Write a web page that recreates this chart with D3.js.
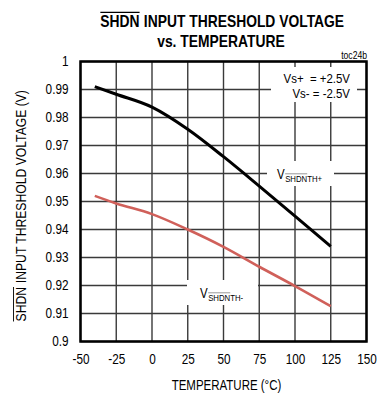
<!DOCTYPE html>
<html>
<head>
<meta charset="utf-8">
<script src="https://cdn.jsdelivr.net/npm/d3@7"></script>
<style>
  html, body { margin: 0; padding: 0; background: #fff; }
  svg { display: block; }
  text { font-family: 'Liberation Sans', Arial, sans-serif; fill: #000; white-space: pre; }
</style>
</head>
<body>
<svg id="chart" width="385" height="396"></svg>
<script>
// ---- data ----
const temperatures = [-40, -25, 0, 25, 50, 75, 100, 125];
const vthPlus  = [0.991, 0.9883, 0.9837, 0.9758, 0.966, 0.9555, 0.9448, 0.934];
const vthMinus = [0.952, 0.9493, 0.9455, 0.940, 0.9338, 0.9267, 0.9198, 0.9126];
const xTicks = [-50, -25, 0, 25, 50, 75, 100, 125, 150];
const xTickLabels = ["-50", "-25", "0", "25", "50", "75", "100", "125", "150"];
const yTicks = [0.9, 0.91, 0.92, 0.93, 0.94, 0.95, 0.96, 0.97, 0.98, 0.99, 1];
const yTickLabels = ["0.9", "0.91", "0.92", "0.93", "0.94", "0.95", "0.96", "0.97", "0.98", "0.99", "1"];
const titleLine1 = ["SHDN", " INPUT THRESHOLD VOLTAGE"];
const titleLine2 = "vs. TEMPERATURE";
const xTitle = "TEMPERATURE (°C)";
const yTitle = ["SHDN", " INPUT THRESHOLD VOLTAGE (V)"];
const noteLines = ["Vs+  = +2.5V", "Vs- = -2.5V"];
const tag = "toc24b";

const NARROW = 0.82;
function narrow(sel, k) {
  sel.each(function () {
    const len = this.getComputedTextLength();
    d3.select(this).attr("textLength", len * (k || NARROW)).attr("lengthAdjust", "spacingAndGlyphs");
  });
  return sel;
}

const svg = d3.select("#chart");
const L = 80.5, R = 366.5, T = 61.5, B = 341.5;
const x = d3.scaleLinear().domain([-50, 150]).range([L, R]);
const y = d3.scaleLinear().domain([0.9, 1]).range([B, T]);

// grid
const grid = svg.append("g");
grid.selectAll("line.v").data(xTicks).join("line")
  .attr("x1", d => x(d)).attr("x2", d => x(d)).attr("y1", T).attr("y2", B)
  .attr("stroke", "#3a3a3a").attr("stroke-width", 1.4);
grid.selectAll("line.h").data(yTicks).join("line")
  .attr("y1", d => y(d)).attr("y2", d => y(d)).attr("x1", L).attr("x2", R)
  .attr("stroke", "#3a3a3a").attr("stroke-width", 1.4);

// white label boxes
svg.append("rect").attr("x", 271).attr("y", 67).attr("width", 86).attr("height", 35).attr("fill", "#fff");
svg.append("rect").attr("x", 267).attr("y", 161).attr("width", 67).attr("height", 25).attr("fill", "#fff");
svg.append("rect").attr("x", 187).attr("y", 280).attr("width", 71).attr("height", 25).attr("fill", "#fff");

// curves
const line = d3.line().x(d => x(d[0])).y(d => y(d[1])).curve(d3.curveMonotoneX);
svg.append("path").datum(temperatures.map((t, i) => [t, vthPlus[i]]))
  .attr("d", line).attr("fill", "none").attr("stroke", "#000").attr("stroke-width", 3);
svg.append("path").datum(temperatures.map((t, i) => [t, vthMinus[i]]))
  .attr("d", line).attr("fill", "none").attr("stroke", "#d0605a").attr("stroke-width", 2.6);

// frame
svg.append("rect").attr("x", L).attr("y", T).attr("width", R - L).attr("height", B - T)
  .attr("fill", "none").attr("stroke", "#000").attr("stroke-width", 2.5);

// axes tick labels via d3 axes (domain/ticks hidden)
const xAxis = svg.append("g").attr("transform", `translate(0,${B})`)
  .call(d3.axisBottom(x).tickValues(xTicks).tickSize(0).tickPadding(14).tickFormat((d, i) => xTickLabels[i]));
xAxis.select(".domain").remove();
narrow(xAxis.selectAll("text").attr("font-size", 14).attr("font-family", null).attr("fill", "#000").attr("dy", "0.6em"), 0.84);

const yAxis = svg.append("g").attr("transform", `translate(${L},0)`)
  .call(d3.axisLeft(y).tickValues(yTicks).tickSize(0).tickPadding(12).tickFormat((d, i) => yTickLabels[i]));
yAxis.select(".domain").remove();
narrow(yAxis.selectAll("text").attr("font-size", 14).attr("font-family", null).attr("fill", "#000"), 0.84);

// helper for text with overlined first part (scaled group, natural-width texts)
function overlinedText(parent, parts, cx, cyBase, size, weight, rotate, k) {
  const g = parent.append("g")
    .attr("transform", `translate(${cx},${cyBase})${rotate ? " rotate(-90)" : ""} scale(${k},1)`);
  const t1 = g.append("text").attr("font-size", size).attr("font-weight", weight).text(parts[0]);
  const t2 = g.append("text").attr("font-size", size).attr("font-weight", weight).text(parts[1]);
  const w1 = t1.node().getComputedTextLength();
  const w2 = t2.node().getComputedTextLength();
  const total = w1 + w2;
  t1.attr("x", -total / 2);
  t2.attr("x", -total / 2 + w1 + 0.5);
  g.append("line").attr("x1", -total / 2).attr("x2", -total / 2 + w1)
    .attr("y1", -size * 0.86).attr("y2", -size * 0.86)
    .attr("stroke", "#000").attr("stroke-width", weight === "bold" ? 1.3 : 1);
  return g;
}

// title
overlinedText(svg, titleLine1, 222, 26.5, 16.5, "bold", false, 0.84);
narrow(svg.append("text").attr("x", 221).attr("y", 46.5).attr("text-anchor", "middle")
  .attr("font-size", 16.5).attr("font-weight", "bold").text(titleLine2), 0.84);

// tag
narrow(svg.append("text").attr("x", 367).attr("y", 59).attr("text-anchor", "end").attr("font-size", 10.5).text(tag));

// axis titles
narrow(svg.append("text").attr("x", 226.5).attr("y", 390).attr("text-anchor", "middle").attr("font-size", 14).text(xTitle));
overlinedText(svg, yTitle, 26, 206, 14.5, "normal", true, 0.84);

// note
narrow(svg.append("text").attr("x", 350).attr("y", 82.5).attr("text-anchor", "end").attr("font-size", 13).text(noteLines[0]), 0.88);
narrow(svg.append("text").attr("x", 350).attr("y", 97.5).attr("text-anchor", "end").attr("font-size", 13).text(noteLines[1]), 0.88);

// series labels (V + subscript as separate texts)
function seriesLabel(xv, base, sub) {
  const tv = svg.append("text").attr("x", xv).attr("y", base).attr("font-size", 14).text("V");
  const vw = tv.node().getComputedTextLength() * NARROW;
  narrow(tv);
  const ts = svg.append("text").attr("x", xv + vw + 0.5).attr("y", base + 3.5).attr("font-size", 9.5).text(sub);
  const n = ts.node();
  const sw = n.getSubStringLength(0, 4) * NARROW;
  narrow(ts);
  svg.append("line").attr("x1", xv + vw + 0.5).attr("x2", xv + vw + 0.5 + sw)
    .attr("y1", base + 3.5 - 8.2).attr("y2", base + 3.5 - 8.2)
    .attr("stroke", "#999").attr("stroke-width", 1);
}
seriesLabel(277, 178.5, "SHDNTH+");
seriesLabel(200, 297.5, "SHDNTH-");
</script>
</body>
</html>
